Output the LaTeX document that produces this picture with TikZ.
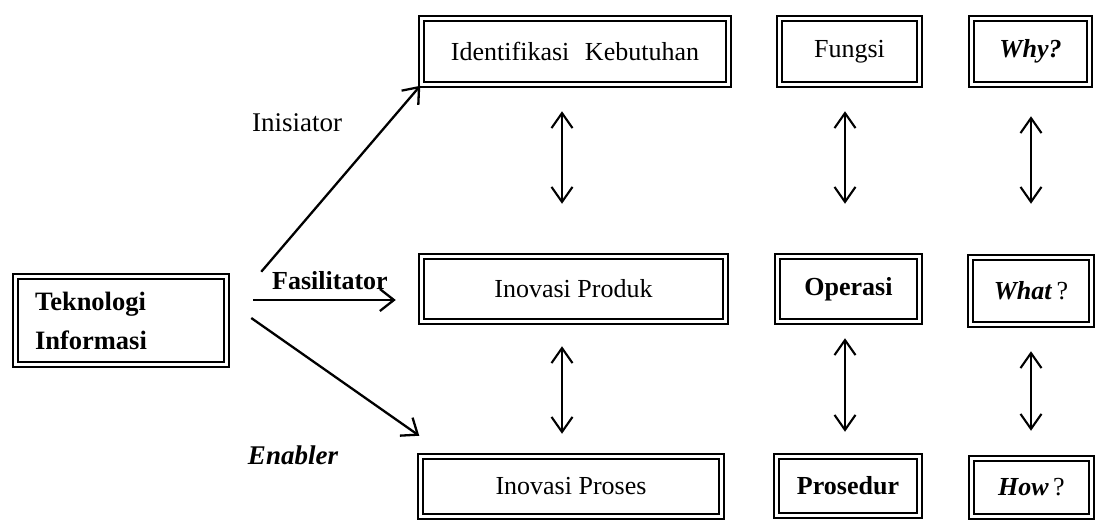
\documentclass[tikz,border=0pt]{standalone}
\usepackage{fontspec}
\setmainfont{Liberation Serif}
\usetikzlibrary{arrows.meta}
\begin{document}
\begin{tikzpicture}[x=1pt,y=-1pt,
  dbox/.style={draw, double, line width=2.5pt, double distance=2.4pt,
    inner sep=0pt, font=\fontsize{26}{31}\selectfont},
  arr/.style={line width=2.3pt, -{Straight Barb[length=14pt,width=22pt,line width=2.3pt]}},
  darr/.style={line width=2.1pt,
    {Straight Barb[length=15pt,width=21pt,line width=2.1pt]}-{Straight Barb[length=15pt,width=21pt,line width=2.1pt]}},
  lbl/.style={inner sep=0pt, font=\fontsize{27}{32}\selectfont}]
\useasboundingbox (0,0) rectangle (1104,522);

% source box
\node[dbox, minimum width=211pt, minimum height=88pt, text width=172pt,
  align=left, inner xsep=19.5pt, font=\bfseries\fontsize{26.5}{39}\selectfont]
  (tek) at (121,320.5) {Teknologi\\Informasi};

% top row
\node[dbox, minimum width=307pt, minimum height=66pt] (idk) at (575,51.5) {Identifikasi\hspace{0.35em} Kebutuhan};
\node[dbox, minimum width=140pt, minimum height=66pt] (fun) at (849.5,51.5) {Fungsi};
\node[dbox, minimum width=118pt, minimum height=66pt] (why) at (1030.5,51.5) {\textbf{\textit{Why?}}};

% middle row
\node[dbox, minimum width=304pt, minimum height=65pt] (ipr) at (573.5,289) {Inovasi Produk};
\node[dbox, minimum width=142pt, minimum height=65pt] (ope) at (848.5,289) {\textbf{Operasi}};
\node[dbox, minimum width=121pt, minimum height=67pt] (wha) at (1031,291) {\textbf{\textit{What}}\,?};

% bottom row
\node[dbox, minimum width=301pt, minimum height=60pt] (ips) at (571,486.5) {Inovasi Proses};
\node[dbox, minimum width=143pt, minimum height=59pt] (pro) at (848,486) {\textbf{Prosedur}};
\node[dbox, minimum width=120pt, minimum height=58pt] (how) at (1031.5,487.5) {\textbf{\textit{How}}\,?};

% arrow labels
\node[lbl] (ini) at (297,123) {Inisiator};
\node[lbl, font=\bfseries\fontsize{26}{31}\selectfont] (fas) at (330,281) {Fasilitator};
\node[lbl, font=\bfseries\itshape\fontsize{27}{32}\selectfont] (ena) at (293,455) {Enabler};

% roles of information technology
\draw[arr] ([xshift=33.5pt,yshift=3.5pt]tek.north east) -- (idk.south west);
\draw[arr] ([xshift=25.5pt,yshift=20.5pt]tek.east) -- ([xshift=-24.5pt,yshift=-11pt]ipr.west);
\draw[arr] ([xshift=23.5pt,yshift=2.5pt]tek.east) -- ([yshift=19.5pt]ips.north west);

% vertical links between rows
\coordinate (c1) at (562,0);
\coordinate (c2) at (845,0);
\coordinate (c3) at (1031,0);
\draw[darr, shorten <=25.5pt, shorten >=51.5pt] (idk.south -| c1) -- (ipr.north -| c1);
\draw[darr, shorten <=23.5pt, shorten >=21.5pt] (ipr.south -| c1) -- (ips.north -| c1);
\draw[darr, shorten <=25.5pt, shorten >=51.5pt] (fun.south -| c2) -- (ope.north -| c2);
\draw[darr, shorten <=15.5pt, shorten >=23.5pt] (ope.south -| c2) -- (pro.north -| c2);
\draw[darr, shorten <=30.5pt, shorten >=52.5pt] (why.south -| c3) -- (wha.north -| c3);
\draw[darr, shorten <=25.5pt, shorten >=26.5pt] (wha.south -| c3) -- (how.north -| c3);
\end{tikzpicture}
\end{document}
